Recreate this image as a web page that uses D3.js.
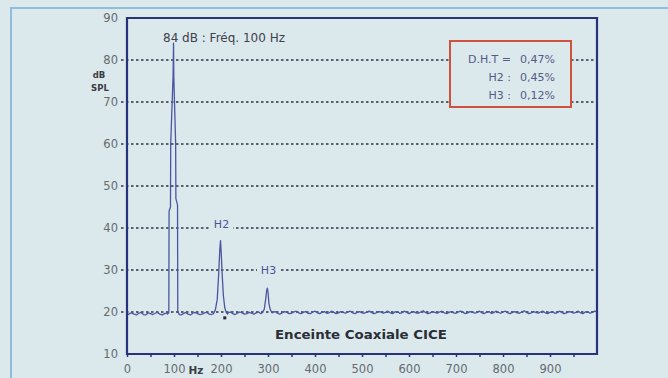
<!DOCTYPE html>
<html>
<head>
<meta charset="utf-8">
<script src="https://cdn.jsdelivr.net/npm/d3@7"></script>
<style>
  html, body { margin: 0; padding: 0; background: #dbe8ec; }
  svg { display: block; }
  text { font-family: "DejaVu Sans", sans-serif; }
</style>
</head>
<body>
<svg id="chart" width="668" height="378"></svg>
<script>
// Spectrum of the coaxial enclosure at 84 dB SPL, 100 Hz tone.
// Noise floor sampled every 5 Hz from 0 to 1000 Hz (dB SPL).
const floorDb = [
  19.2,19.6,19.8,19.5,19.3,19.7,19.9,19.4,19.3,19.8,19.6,19.4,19.7,19.9,19.5,19.3,19.6,19.8,19.5,19.6,
  19.7,19.8,19.5,19.3,19.6,19.9,19.5,19.3,19.7,19.9,19.6,19.4,19.5,19.8,19.9,19.5,19.4,19.7,19.9,19.6,
  19.5,19.7,19.4,19.8,20.0,19.6,19.4,19.7,20.0,19.8,19.5,19.6,19.9,19.7,19.5,19.8,20.0,19.6,19.7,19.9,
  19.8,19.6,19.9,20.1,19.7,19.5,19.8,20.1,19.9,19.6,19.7,20.0,20.2,19.8,19.6,19.9,20.1,19.7,19.6,20.0,
  20.2,19.8,19.6,19.9,20.1,19.7,19.8,20.2,19.9,19.6,19.8,20.1,19.9,19.7,20.0,20.2,19.8,19.6,19.9,20.1,
  19.8,19.7,20.0,20.2,19.9,19.6,19.8,20.1,20.0,19.7,19.9,20.2,19.8,19.6,20.0,20.1,19.7,19.8,20.2,19.9,
  19.6,19.9,20.1,19.8,19.7,20.0,20.3,19.9,19.6,19.8,20.1,19.9,19.7,20.0,20.2,19.8,19.6,19.9,20.1,19.8,
  19.7,20.0,20.2,19.9,19.6,19.8,20.1,20.0,19.7,19.9,20.2,19.8,19.6,20.0,20.1,19.7,19.8,20.2,19.9,19.7,
  20.0,20.2,19.8,19.6,19.9,20.1,19.8,19.7,20.0,20.3,19.9,19.6,19.8,20.1,19.9,19.7,20.0,20.2,19.8,19.6,
  19.9,20.1,19.7,19.8,20.2,19.9,19.6,19.8,20.1,20.0,19.7,19.9,20.2,19.8,19.6,20.0,20.1,19.7,19.9,20.2,20.0
];
const floorStepHz = 5;

// Fundamental and harmonics: [Hz, dB SPL]
const fundamentalPeak = [
  [86,19.5],[89,19.8],[89.5,44],[92.5,45],[93,60],[98,76],[99,84],[99.6,76],
  [103.5,60],[104,47],[107.5,45.5],[108,20.3],[111,19.4]
];
const h2Peak = [
  [184,19.6],[188,20.5],[192,23],[195,29],[197.5,35],[199,37],[200.5,34],
  [202.5,29],[205,24],[208,21],[211,19.9],[214,19.5]
];
const h3Peak = [
  [287,19.8],[292,20.6],[295,23],[297,25],[298.5,25.7],[300,24.8],[302,22],[305,20.5],[309,19.8]
];
const cursorPoint = [208, 18.6];

const yTicks = [10,20,30,40,50,60,70,80,90];
const gridLevels = [20,30,40,50,60,70,80];
const xTicks = [0,100,200,300,400,500,600,700,800,900];

const titleText = "84 dB : Fréq. 100 Hz";
const seriesName = "Enceinte Coaxiale CICE";
const distortionLabels = ["D.H.T =", "H2 :", "H3 :"];
const distortionValues = ["0,47%", "0,45%", "0,12%"];

// ---- assemble the spectrum ----
const peaks = [fundamentalPeak, h2Peak, h3Peak];
const inPeak = hz => peaks.some(p => hz >= p[0][0] && hz <= p[p.length - 1][0]);
const spectrum = floorDb
  .map((db, i) => [i * floorStepHz, db])
  .filter(d => !inPeak(d[0]))
  .concat(...peaks)
  .sort((a, b) => a[0] - b[0]);

// ---- scales ----
const x = d3.scaleLinear().domain([0, 1000]).range([127, 597]);
const y = d3.scaleLinear().domain([10, 90]).range([354, 18]);

const svg = d3.select("#chart");
const bg = "#dbe8ec";
const frameColor = "#27337a";
const traceColor = "#4b56a0";

// outer panel border
svg.append("path")
  .attr("d", "M11,378 L11,8 L668,8")
  .attr("fill", "none").attr("stroke", "#8fbddb").attr("stroke-width", 2);

// dashed grid
svg.append("g").selectAll("line").data(gridLevels).join("line")
  .attr("x1", 121).attr("x2", x(1000))
  .attr("y1", d => y(d)).attr("y2", d => y(d))
  .attr("stroke", "#30334a").attr("stroke-width", 1.4)
  .attr("stroke-dasharray", "2.5,2.5");

// y axis labels
const yAxis = svg.append("g").attr("transform", "translate(126,0)")
  .call(d3.axisLeft(y).tickValues(yTicks).tickSize(0).tickPadding(8));
yAxis.select(".domain").remove();
yAxis.selectAll("text").attr("font-size", 11.5).attr("fill", "#666a70")
  .attr("font-family", "DejaVu Sans, sans-serif");

// x axis
const xAxis = svg.append("g").attr("transform", "translate(0,354)")
  .call(d3.axisBottom(x).tickValues(d3.range(0, 1000, 50))
    .tickFormat(d => d % 100 === 0 ? d : "").tickSize(3).tickPadding(8));
xAxis.select(".domain").remove();
xAxis.selectAll("line").attr("stroke", frameColor).attr("stroke-width", 1.5);
xAxis.selectAll("text").attr("font-size", 11.5).attr("fill", "#666a70")
  .attr("font-family", "DejaVu Sans, sans-serif");

svg.append("text").attr("x", 196).attr("y", 374)
  .attr("text-anchor", "middle").attr("font-size", 10.5).attr("font-weight", "bold")
  .attr("fill", "#3a3d44").text("Hz");

// unit label
svg.append("text").attr("x", 99).attr("y", 78).attr("text-anchor", "middle")
  .attr("font-size", 8.5).attr("font-weight", "bold").attr("fill", "#3a3d44").text("dB");
svg.append("text").attr("x", 100).attr("y", 91).attr("text-anchor", "middle")
  .attr("font-size", 8.5).attr("font-weight", "bold").attr("fill", "#3a3d44").text("SPL");

// spectrum trace
const line = d3.line().x(d => x(d[0])).y(d => y(d[1]));
svg.append("path").datum(spectrum)
  .attr("d", line).attr("fill", "none")
  .attr("stroke", traceColor).attr("stroke-width", 1.3)
  .attr("stroke-linejoin", "round");

// cursor marker
svg.append("rect")
  .attr("x", x(cursorPoint[0]) - 1.5).attr("y", y(cursorPoint[1]) - 1.5)
  .attr("width", 3).attr("height", 3).attr("fill", "#2a2630");

// plot frame
svg.append("path")
  .attr("d", `M${x(0)},${y(10)} L${x(0)},${y(90)} L${x(1000)},${y(90)} L${x(1000)},${y(10)} Z`)
  .attr("fill", "none").attr("stroke", frameColor).attr("stroke-width", 2.2);

// harmonic labels with a background knock-out over the grid
const harmLabels = [
  { text: "H2", hz: 200, db: 40.9 },
  { text: "H3", hz: 300, db: 30 }
];
harmLabels.forEach(l => {
  svg.append("rect").attr("x", x(l.hz) - 11).attr("y", y(l.db) - 6)
    .attr("width", 23).attr("height", 12).attr("fill", bg);
  svg.append("text").attr("x", x(l.hz) + 0.5).attr("y", y(l.db) + 4.2)
    .attr("text-anchor", "middle").attr("font-size", 11)
    .attr("fill", "#4b5595").text(l.text);
});

// title
svg.append("text").attr("x", 163).attr("y", 42)
  .attr("font-size", 12).attr("fill", "#3e424c").text(titleText);

// series name
svg.append("text").attr("x", 275).attr("y", 339)
  .attr("font-size", 12).attr("font-weight", "bold").attr("fill", "#2a2e36")
  .attr("textLength", 172).attr("lengthAdjust", "spacingAndGlyphs").text(seriesName);

// distortion box
svg.append("rect").attr("x", 450).attr("y", 41).attr("width", 121).attr("height", 66)
  .attr("fill", bg).attr("stroke", "#d0523c").attr("stroke-width", 2);
const rowY = [62.5, 81, 99];
distortionLabels.forEach((t, i) => {
  svg.append("text").attr("x", 511).attr("y", rowY[i]).attr("text-anchor", "end")
    .attr("font-size", 11).attr("fill", "#555a88").text(t);
  svg.append("text").attr("x", 520).attr("y", rowY[i])
    .attr("font-size", 11).attr("fill", "#555a88").text(distortionValues[i]);
});
</script>
</body>
</html>
